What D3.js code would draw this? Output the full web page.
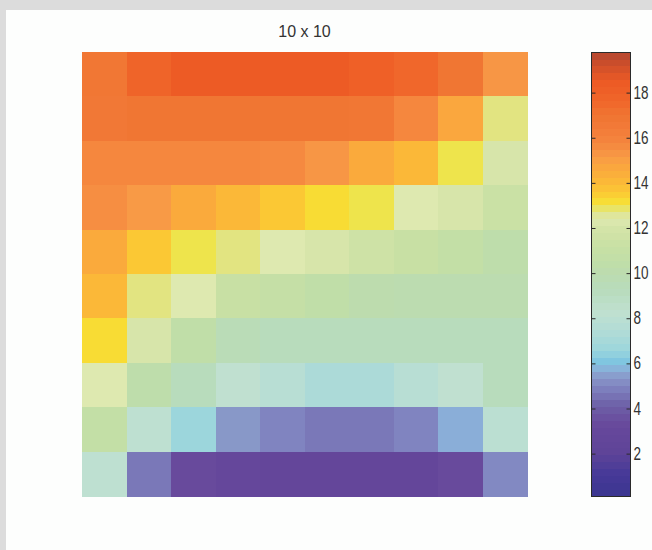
<!DOCTYPE html>
<html>
<head>
<meta charset="utf-8">
<script src="https://cdn.jsdelivr.net/npm/d3@7"></script>
<style>
  html, body { margin: 0; padding: 0; background: #dcdcdc; }
  svg { display: block; }
</style>
</head>
<body>
<svg id="chart" width="652" height="550"></svg>
<script>
// Grid values, row by row from top to bottom
const rowLabels = [0, 1, 2, 3, 4, 5, 6, 7, 8, 9];
const colLabels = [0, 1, 2, 3, 4, 5, 6, 7, 8, 9];
const row0 = [16.8, 17.8, 18.4, 18.4, 18.4, 18.4, 18.0, 17.6, 16.9, 15.3];
const row1 = [16.7, 16.9, 16.9, 16.9, 16.9, 16.9, 16.8, 15.8, 14.7, 12.75];
const row2 = [15.8, 15.8, 15.8, 15.8, 15.7, 15.3, 14.6, 14.1, 13.0, 12.1];
const row3 = [15.5, 15.2, 14.6, 14.1, 13.6, 13.2, 13.0, 12.4, 12.1, 11.3];
const row4 = [14.6, 13.6, 13.0, 12.75, 12.4, 12.1, 11.6, 11.2, 10.8, 10.3];
const row5 = [14.1, 12.75, 12.4, 11.2, 10.9, 10.5, 10.1, 10.0, 10.0, 10.0];
const row6 = [13.2, 12.1, 10.5, 9.6, 9.3, 9.3, 9.3, 9.3, 9.3, 9.3];
const row7 = [12.4, 10.3, 9.3, 8.3, 7.8, 7.2, 7.2, 7.8, 8.3, 9.3];
const row8 = [10.8, 8.2, 6.6, 5.4, 5.0, 4.7, 4.7, 5.0, 5.7, 8.0];
const row9 = [8.2, 4.7, 3.4, 3.0, 2.8, 2.8, 2.8, 2.8, 3.4, 5.1];
const grid = [row0, row1, row2, row3, row4, row5, row6, row7, row8, row9];

const colorTicks = [2, 4, 6, 8, 10, 12, 14, 16, 18];
const colorRange = [0.1, 19.8];

// Colormap knots (value -> colour)
const cmapValues = [0.1, 1.2, 2.0, 2.8, 3.4, 4.2, 4.7, 5.0, 5.4, 5.7, 6.1, 6.6, 7.2, 7.8, 8.3,
  9.3, 10.0, 10.5, 11.2, 12.0, 12.4, 12.7, 13.0, 13.2, 13.6, 14.1, 14.6, 15.2, 15.5, 16.0,
  16.5, 17.0, 17.5, 18.0, 18.5, 19.2, 19.8];
const cmapColors = ["#3a3590", "#483a98", "#5e4498", "#64469a", "#684a9c", "#6e62a8", "#7a78b8",
  "#8084c0", "#8898c8", "#8aaed8", "#80c6e0", "#9cd6dc", "#acdad8", "#b8ded4", "#c0e0d0",
  "#b8dcbc", "#bcdcb0", "#c0dea8", "#c8e0a4", "#d4e4a8", "#dee9b0", "#e0e48c", "#eee44c",
  "#f8dc34", "#fbc834", "#fbb838", "#faaa3c", "#f89a46", "#f68e42", "#f4823c", "#f27a38",
  "#f07532", "#f0692c", "#ef6027", "#ec5a25", "#cf4f2a", "#b3452f"];

const color = d3.scaleLinear().domain(cmapValues).range(cmapColors)
  .interpolate(d3.interpolateRgb).clamp(true);

const svg = d3.select("#chart");

// Figure panel
svg.append("rect").attr("x", 6).attr("y", 10).attr("width", 646).attr("height", 540)
  .attr("fill", "#fdfefd");

// Heatmap
const x = d3.scaleBand().domain(colLabels).range([82, 527]);
const y = d3.scaleBand().domain(rowLabels).range([52, 496]);

const cells = [];
grid.forEach((row, r) => row.forEach((v, c) => cells.push({ r, c, v })));

svg.append("g").selectAll("rect").data(cells).join("rect")
  .attr("x", d => x(d.c))
  .attr("y", d => y(d.r))
  .attr("width", x.bandwidth() + 0.5)
  .attr("height", y.bandwidth() + 0.5)
  .attr("fill", d => color(d.v))
  .attr("shape-rendering", "crispEdges");

// Title
svg.append("text")
  .attr("x", (82 + 527) / 2).attr("y", 37)
  .attr("text-anchor", "middle")
  .attr("font-family", "Liberation Sans, Arial, sans-serif")
  .attr("font-size", 16)
  .attr("fill", "#333")
  .text("10 x 10");

// Colorbar
const cbX0 = 591, cbX1 = 631;
const cy = d3.scaleLinear().domain(colorRange).range([496.5, 52]);
const nBands = 64;
const bandStep = (colorRange[1] - colorRange[0]) / nBands;
const bands = d3.range(nBands).map(i => colorRange[0] + i * bandStep);

const cb = svg.append("g");
cb.selectAll("rect").data(bands).join("rect")
  .attr("x", cbX0)
  .attr("width", cbX1 - cbX0)
  .attr("y", d => cy(d + bandStep))
  .attr("height", d => cy(d) - cy(d + bandStep) + 0.6)
  .attr("fill", d => color(d + bandStep / 2))
  .attr("shape-rendering", "crispEdges");

cb.append("rect")
  .attr("x", cbX0 + 0.5).attr("y", 52.5)
  .attr("width", cbX1 - cbX0 - 1).attr("height", 496.5 - 52.5)
  .attr("fill", "none").attr("stroke", "#2a2a2a").attr("stroke-width", 1);

// Right axis: inward ticks with labels outside
const rightAxis = d3.axisRight(cy).tickValues(colorTicks).tickSize(-4).tickPadding(3)
  .tickFormat(d3.format("d"));
const ra = svg.append("g").attr("transform", `translate(${cbX1 - 0.5},0)`).call(rightAxis);
ra.select(".domain").remove();
ra.selectAll(".tick line").attr("stroke", "#2a2a2a");
ra.selectAll(".tick text")
  .attr("font-family", "Liberation Sans, Arial, sans-serif")
  .attr("font-size", 13.5)
  .attr("fill", "#333")
  .attr("transform", "scale(1,1.3)");

// Left edge inward ticks
const leftAxis = d3.axisLeft(cy).tickValues(colorTicks).tickSize(-4).tickFormat("");
const la = svg.append("g").attr("transform", `translate(${cbX0 + 0.5},0)`).call(leftAxis);
la.select(".domain").remove();
la.selectAll(".tick line").attr("stroke", "#2a2a2a");
</script>
</body>
</html>
